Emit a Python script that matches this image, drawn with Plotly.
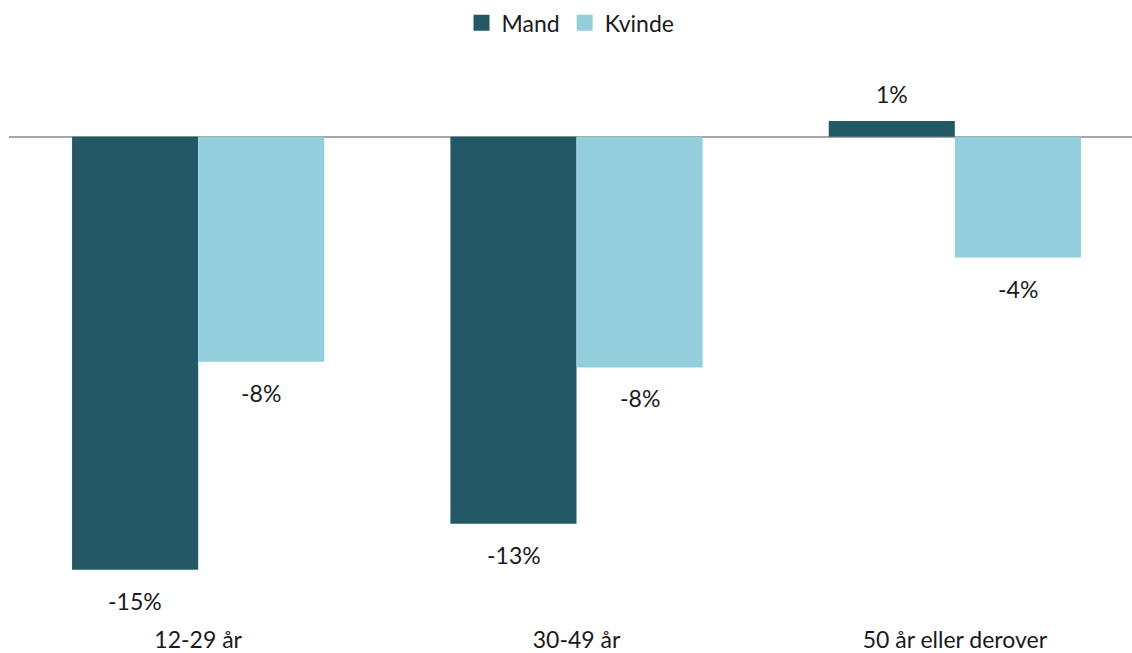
import plotly.graph_objects as go

categories = ["12-29 år", "30-49 år", "50 år eller derover"]
mand = [-15.05, -13.45, 0.55]
kvinde = [-7.82, -8.02, -4.2]
series_names = ["Mand", "Kvinde"]
colors = ["#235966", "#92CEDC"]

FONT = "Lato, 'Open Sans', sans-serif"
FS = 23

fig = go.Figure()
for name, vals, col in zip(series_names, [mand, kvinde], colors):
    fig.add_trace(go.Bar(
        x=categories, y=vals, name=name, showlegend=False,
        marker=dict(color=col, line=dict(width=0)),
    ))
# legend entries with larger square markers
for name, col in zip(series_names, colors):
    fig.add_trace(go.Scatter(
        x=[None], y=[None], mode="markers", name=name,
        marker=dict(symbol="square", size=16, color=col),
    ))

annotations = []
for vals, shift in [(mand, -63), (kvinde, 63)]:
    for c, v in zip(categories, vals):
        annotations.append(dict(
            x=c, y=v, xref="x", yref="y", text=f"{round(v):.0f}%",
            showarrow=False, xshift=shift, yshift=(27 if v >= 0 else -31),
            font=dict(family=FONT, size=FS, color="#1a1a1a"),
        ))

px_per_unit = 28.87
zero_px = 137
top_px = 60
bottom_px = 622
y_top = (zero_px - top_px) / px_per_unit
y_bot = -(bottom_px - zero_px) / px_per_unit

fig.update_layout(
    width=1132, height=653,
    margin=dict(l=9, r=0, t=top_px, b=653 - bottom_px),
    paper_bgcolor="white", plot_bgcolor="white",
    barmode="group", bargap=1/3, bargroupgap=0,
    font=dict(family=FONT, size=FS, color="#1a1a1a"),
    showlegend=True,
    legend=dict(orientation="h", x=0.5, xanchor="center", y=0.998, yref="container",
                yanchor="top", font=dict(size=FS), itemsizing="trace",
                traceorder="normal", itemwidth=30, tracegroupgap=0),
    xaxis=dict(range=[-0.5, 2.5 - 12 / 378], showline=False, ticks="",
               showgrid=False, tickfont=dict(size=FS), ticklabelstandoff=4),
    yaxis=dict(range=[y_bot, y_top], visible=True, showticklabels=False,
               showgrid=False, zeroline=True, zerolinecolor="#a6a6a6",
               zerolinewidth=2, showline=False, ticks=""),
    annotations=annotations,
)

fig.write_html("out.html")
